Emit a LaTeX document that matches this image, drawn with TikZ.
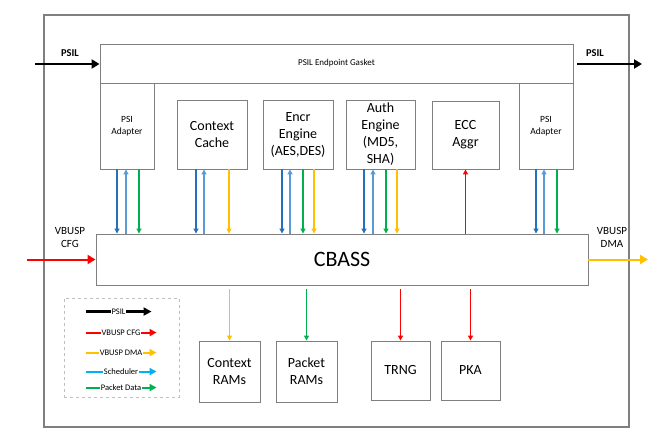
\documentclass[tikz,border=0pt]{standalone}
\usepackage{fontspec}
\setmainfont{Carlito}
\usepackage{tikz}
\usetikzlibrary{arrows.meta, positioning, calc}
\definecolor{gris}{HTML}{7F7F7F}
\definecolor{grisclair}{HTML}{BFBFBF}
\definecolor{bleuB}{HTML}{2470BC}
\definecolor{bleuH}{HTML}{5B9BD5}
\definecolor{vert}{HTML}{00B050}
\definecolor{jaune}{HTML}{FFC000}
\definecolor{rouge}{HTML}{FF0000}
\definecolor{cyanL}{HTML}{00B0F0}

\begin{document}
\begin{tikzpicture}[x=1pt, y=-1pt,
	bloc/.style={draw=gris, line width=0.9pt, fill=white, inner sep=0pt, align=center,
		font=\fontsize{14}{17}\selectfont},
	petit/.style={font=\fontsize{9.5}{12}\selectfont, align=center},
	lien/.style={-{Triangle[length=5pt, width=5pt]}, line width=1.1pt},
	gros/.style={-{Triangle[length=8pt, width=9pt]}, line width=2.2pt},
	lgd/.style={-{Triangle[length=7pt, width=7pt]}, line width=2pt},
	lgtxt/.style={fill=white, inner sep=0.6pt, font=\fontsize{8.5}{10}\selectfont},
	lbl/.style={font=\fontsize{11}{13}\selectfont, align=center}
	]
	\useasboundingbox (0,0) rectangle (658,441);

	% Les blocs
	\node[bloc, line width=1.2pt, minimum width=585pt, minimum height=412pt] (cadre) at (336.5,221) {};
	\node[bloc, minimum width=473pt, minimum height=39pt, font=\fontsize{9}{11}\selectfont] (gasket) at (336.5,63.5) {PSIL Endpoint Gasket};
	\node[bloc, petit, minimum width=54pt, minimum height=86pt] (psiG) at (127,126) {PSI\\Adapter};
	\node[bloc, minimum width=70pt, minimum height=69pt] (cache) at (212,134.5) {Context\\Cache};
	\node[bloc, minimum width=70pt, minimum height=69pt] (encr) at (298,134.5) {Encr\\Engine\\(AES,DES)};
	\node[bloc, minimum width=69pt, minimum height=69pt] (auth) at (380.5,134.5) {Auth\\Engine\\(MD5,\\SHA)};
	\node[bloc, minimum width=67pt, minimum height=68pt] (ecc) at (465.5,135) {ECC\\Aggr};
	\node[bloc, petit, minimum width=54pt, minimum height=86pt] (psiD) at (546,126) {PSI\\Adapter};
	\node[bloc, minimum width=492pt, minimum height=51pt, font=\fontsize{22}{26}\selectfont] (cbass) at (342,259.5) {CBASS};
	\node[bloc, minimum width=61pt, minimum height=61pt] (ctxram) at (229.5,371.5) {Context\\RAMs};
	\node[bloc, minimum width=61pt, minimum height=61pt] (pktram) at (306.5,371.5) {Packet\\RAMs};
	\node[bloc, minimum width=59pt, minimum height=59pt] (trng) at (400.5,370.5) {TRNG};
	\node[bloc, minimum width=59pt, minimum height=59pt] (pka) at (470.5,370.5) {PKA};
	\node[draw=grisclair, dashed, line width=0.9pt, minimum width=115pt, minimum height=99pt] (legende) at (121.5,347.5) {};

	% Les etiquettes
	\node[lbl, font=\bfseries\fontsize{10.5}{13}\selectfont] (lpsilG) at (70,53) {PSIL};
	\node[lbl, font=\bfseries\fontsize{10.5}{13}\selectfont] (lpsilD) at (595,53) {PSIL};
	\node[lbl] (lcfg) at (70,237.5) {VBUSP\\CFG};
	\node[lbl] (ldma) at (612,237.5) {VBUSP\\DMA};
	\coordinate (psilIn) at (35,64);
	\coordinate (psilOut) at (642,64);
	\coordinate (cfgIn) at (27,259.5);
	\coordinate (dmaOut) at (648,259.5);

	% Les entrees / sorties
	\draw[gros] (psilIn) -- (gasket.west |- psilIn);
	\draw[gros, shorten <=4pt] (gasket.east |- psilOut) -- (psilOut);
	\draw[gros, rouge, line width=2pt] (cfgIn) -- (cbass.west);
	\draw[gros, jaune, line width=2pt] (cbass.east) -- (dmaOut);

	% Les liens vers CBASS
	\draw[lien, bleuB] ([xshift=-10pt]psiG.south) -- ([xshift=-10pt]psiG.south |- cbass.north);
	\draw[lien, bleuH] ([xshift=-1pt]psiG.south |- cbass.north) -- ([xshift=-1pt]psiG.south);
	\draw[lien, vert] ([xshift=12pt]psiG.south) -- ([xshift=12pt]psiG.south |- cbass.north);
	\draw[lien, bleuB] ([xshift=-16pt]cache.south) -- ([xshift=-16pt]cache.south |- cbass.north);
	\draw[lien, bleuH] ([xshift=-8pt]cache.south |- cbass.north) -- ([xshift=-8pt]cache.south);
	\draw[lien, jaune] ([xshift=17pt]cache.south) -- ([xshift=17pt]cache.south |- cbass.north);
	\draw[lien, bleuB] ([xshift=-16pt]encr.south) -- ([xshift=-16pt]encr.south |- cbass.north);
	\draw[lien, bleuH] ([xshift=-8pt]encr.south |- cbass.north) -- ([xshift=-8pt]encr.south);
	\draw[lien, vert] ([xshift=5pt]encr.south) -- ([xshift=5pt]encr.south |- cbass.north);
	\draw[lien, jaune] ([xshift=16pt]encr.south) -- ([xshift=16pt]encr.south |- cbass.north);
	\draw[lien, bleuB] ([xshift=-16.5pt]auth.south) -- ([xshift=-16.5pt]auth.south |- cbass.north);
	\draw[lien, bleuH] ([xshift=-7.5pt]auth.south |- cbass.north) -- ([xshift=-7.5pt]auth.south);
	\draw[lien, vert] ([xshift=5.5pt]auth.south) -- ([xshift=5.5pt]auth.south |- cbass.north);
	\draw[lien, jaune] ([xshift=16.5pt]auth.south) -- ([xshift=16.5pt]auth.south |- cbass.north);
	\draw[lien, rouge] (ecc.south |- cbass.north) -- (ecc.south);
	\draw[lien, bleuB] ([xshift=-10pt]psiD.south) -- ([xshift=-10pt]psiD.south |- cbass.north);
	\draw[lien, bleuH] ([xshift=-2pt]psiD.south |- cbass.north) -- ([xshift=-2pt]psiD.south);
	\draw[lien, vert] ([xshift=11pt]psiD.south) -- ([xshift=11pt]psiD.south |- cbass.north);

	% Les liens vers les memoires
	\draw[lien, jaune] ([yshift=-4pt]cbass.south -| ctxram.north) -- (ctxram.north);
	\draw[lien, vert] ([yshift=-4pt]cbass.south -| pktram.north) -- (pktram.north);
	\draw[lien, rouge] ([yshift=-4pt]cbass.south -| trng.north) -- (trng.north);
	\draw[lien, rouge] ([yshift=-4pt]cbass.south -| pka.north) -- (pka.north);

	% La legende
	\draw[lgd, black, line width=2.2pt, -{Triangle[length=8pt, width=8pt]}] ([shift={(22pt,-14pt)}]legende.north west) coordinate (lg1a) -- ++(66pt,0) coordinate (lg1b);
	\draw[lgd, rouge] ([shift={(22pt,-35pt)}]legende.north west) coordinate (lg2a) -- ++(71pt,0) coordinate (lg2b);
	\draw[lgd, jaune] ([shift={(22pt,-55pt)}]legende.north west) coordinate (lg3a) -- ++(71pt,0) coordinate (lg3b);
	\draw[lgd, cyanL] ([shift={(22pt,-74pt)}]legende.north west) coordinate (lg4a) -- ++(71pt,0) coordinate (lg4b);
	\draw[lgd, vert] ([shift={(22pt,-90pt)}]legende.north west) coordinate (lg5a) -- ++(71pt,0) coordinate (lg5b);
	\node[lgtxt] (lgPsil) at ($(lg1a)!0.5!(lg1b)$) {PSIL};
	\node[lgtxt] (lgCfg) at ($(lg2a)!0.5!(lg2b)$) {VBUSP CFG};
	\node[lgtxt] (lgDma) at ($(lg3a)!0.5!(lg3b)$) {VBUSP DMA};
	\node[lgtxt] (lgSched) at ($(lg4a)!0.5!(lg4b)$) {Scheduler};
	\node[lgtxt] (lgPkt) at ($(lg5a)!0.5!(lg5b)$) {Packet Data};
\end{tikzpicture}
\end{document}
